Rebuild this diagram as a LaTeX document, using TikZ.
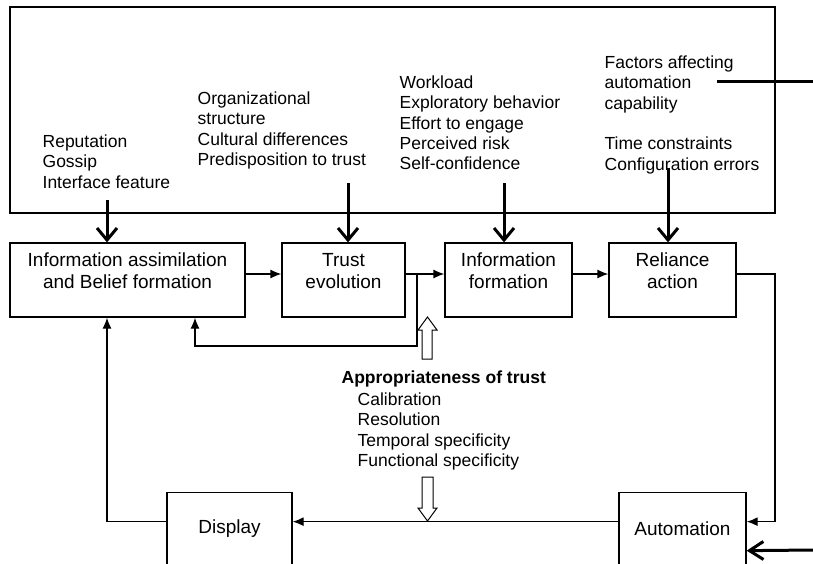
\documentclass[tikz,border=0pt]{standalone}
\usepackage{fontspec}
\setmainfont{Liberation Sans}
\usetikzlibrary{arrows.meta, calc}

\tikzset{
	stagebox/.style = {draw, line width = 1.3pt, align = center, inner ysep = 0pt, minimum height = 74pt, text depth = 18pt, font = \fontsize{19}{22}\selectfont},
	endbox/.style = {draw, line width = 1.3pt, anchor = north, minimum height = 72pt, font = \fontsize{19}{22}\selectfont},
	factors/.style = {anchor = north west, inner sep = 0pt, align = left, font = \fontsize{17.5}{20.4}\selectfont},
	inarrow/.style = {line width = 3pt, -{Straight Barb[length = 12pt, width = 20pt]}},
	hollow/.style = {draw, line width = 1pt, fill = white}
}

\begin{document}
\begin{tikzpicture}[x = 1pt, y = -1pt, > = {Latex[length = 11pt, width = 9pt]}, line width = 1.3pt]

	\useasboundingbox (0, 0) rectangle (813, 563);
	\clip (0, 0) rectangle (813, 563);

	% Frame round the influencing factors

	\draw (10, 7) rectangle (775, 213);

	\node [factors] (reputation) at (42, 134) {Reputation\\Gossip\\Interface feature};
	\node [factors] (organization) at (197, 91) {Organizational\\structure\\Cultural differences\\Predisposition to trust};
	\node [factors] (workload) at (399, 75) {Workload\\Exploratory behavior\\Effort to engage\\Perceived risk\\Self-confidence};
	\node [factors] (capability) at (604, 55) {Factors affecting\\automation\\capability\\[20.4pt]Time constraints\\Configuration errors};

	% Stages of the trust loop

	\node [stagebox, minimum width = 235pt] (assim) at (127.5, 280) {Information assimilation\\and Belief formation};
	\node [stagebox, minimum width = 123pt] (evol) at (343.5, 280) {Trust\\evolution};
	\node [stagebox, minimum width = 127pt] (inform) at (508.5, 280) {Information\\formation};
	\node [stagebox, minimum width = 127pt] (reliance) at (672.5, 280) {Reliance\\action};

	\node [endbox, minimum width = 125pt] (display) at (229.5, 492) {Display};
	\node [endbox, minimum width = 127pt] (automation) at (682.5, 492) {Automation};

	% Factors acting on the stages

	\coordinate (in1) at (107, 200);
	\coordinate (in2) at (348, 183);
	\coordinate (in3) at (504, 183);
	\coordinate (in4) at (668, 168);

	\draw [inarrow] (in1) -- (in1 |- assim.north);
	\draw [inarrow] (in2) -- (in2 |- evol.north);
	\draw [inarrow] (in3) -- (in3 |- inform.north);
	\draw [inarrow] (in4) -- (in4 |- reliance.north);

	\coordinate (capline west) at (717, 81);
	\coordinate (capline east) at (813, 81);
	\draw [line width = 3pt] (capline west) -- (capline east);

	\coordinate (extin) at (813, 550);
	\draw [line width = 3pt, -{Straight Barb[length = 14pt, width = 18pt]}] (extin) -- ([yshift = -22pt]automation.east);

	% Forward flow

	\draw [->] ([yshift = 6pt]assim.east) -- ([yshift = 6pt]evol.west);
	\draw [->] ([yshift = 6pt]evol.east) -- ([yshift = 6pt]inform.west);
	\draw [->] ([yshift = 6pt]inform.east) -- ([yshift = 6pt]reliance.west);

	\coordinate (rloop) at (775, 400);
	\draw [->] ([yshift = 6pt]reliance.east) -| (rloop) |- ([yshift = 7pt]automation.east);
	\draw [->] ([yshift = 7pt]automation.west) -- ([yshift = 7pt]display.east);

	% Feedback loops

	\draw [->] ([yshift = 7pt]display.west) -| (in1 |- assim.south);

	\coordinate (tap) at (417, 274);
	\coordinate (fb) at (195, 346);
	\draw [->] (tap) |- (fb) -- (fb |- assim.south);

	% Appropriateness of trust

	\draw [hollow] (422, 359) -- (422, 330) -- (418, 330) -- (427.5, 317) -- (437, 330) -- (432, 330) -- (432, 359) -- cycle;

	\node [factors, font = \fontsize{17.5}{20.4}\selectfont\bfseries] (approp) at (341, 370) {Appropriateness of trust};
	\node [factors] (measures) at (357, 392) {Calibration\\Resolution\\Temporal specificity\\Functional specificity};

	\draw [hollow] (422, 477) -- (433, 477) -- (433, 508) -- (437, 508) -- (427.5, 521) -- (418, 508) -- (422, 508) -- cycle;

\end{tikzpicture}
\end{document}
